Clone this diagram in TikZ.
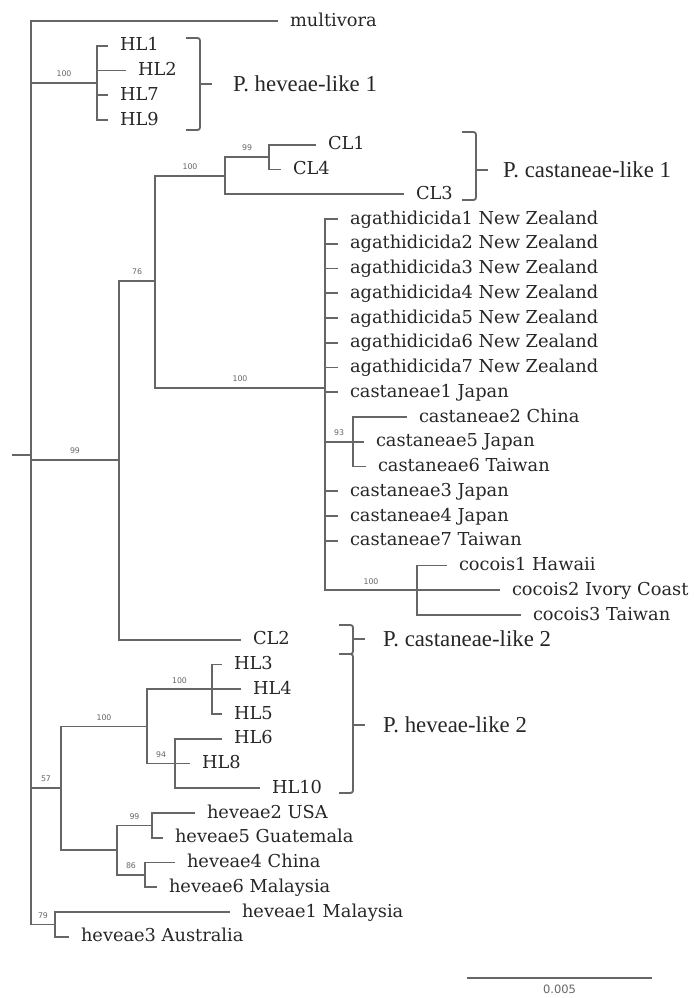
\documentclass[tikz,border=0pt]{standalone}
\usepackage{fontspec}
\setmainfont{DejaVu Serif}
\newfontfamily\cladefont{Liberation Serif}
\newfontfamily\bootfont{DejaVu Sans}
\usetikzlibrary{calc}
\def\cladebrace(#1:#2:#3:#4){\draw[brace] ($(#1,#2)+(-14,0)$) -- (#1,#2) -- (#1,#3) -- ($(#1,#3)+(-14,0)$); \draw[brace] (#1,#4) -- ++(12,0);}
\tikzset{
	branch/.style={draw=black!60, line width=1.8pt},
	brace/.style={draw=black!60, line width=1.8pt, rounded corners=2.5pt},
	leaf/.style={anchor=west, inner xsep=12pt, inner ysep=0pt, outer sep=0pt, text height=12.8pt, text depth=2.5pt, text=black!85, font=\fontsize{17.8}{20}\selectfont},
	clade/.style={anchor=west, inner sep=0pt, text=black!85, font=\cladefont\fontsize{22.8}{26}\selectfont},
	boot/.style={above=4.5pt, inner sep=0.5pt, text=black!60, font=\bootfont\fontsize{7.8}{8}\selectfont},
	scalelab/.style={below=6pt, inner sep=0.5pt, text=black!60, font=\bootfont\fontsize{11.5}{12}\selectfont}
}

\begin{document}
\begin{tikzpicture}[x=1pt, y=-1pt]
	%%%%% START %%%%%
	\useasboundingbox (0,0) rectangle (693,998);
	
	% inner nodes
	\coordinate (stub) at (12,455);
	\coordinate (root) at (31,455);
	\coordinate (nHLa) at (97,83);
	\coordinate (nB99) at (119,460);
	\coordinate (nB76) at (155,281);
	\coordinate (nCLa) at (225,176);
	\coordinate (nCLb) at (269,157);
	\coordinate (nAga) at (325,388);
	\coordinate (nCas) at (353,441.8);
	\coordinate (nCoc) at (417,590.3);
	\coordinate (n57) at (61,788);
	\coordinate (nHLb) at (147,726.4);
	\coordinate (nHLc) at (212,689.3);
	\coordinate (n94) at (175,763.5);
	\coordinate (nHev) at (117,850);
	\coordinate (nH99) at (152,825.4);
	\coordinate (nH86) at (145,874.9);
	\coordinate (n79) at (55,924.4);
	
	% leaves
	\node[leaf] (multivora) at (278,21) {multivora};
	
	\node[leaf] (hl1) at (108,45.8) {HL1};
	\node[leaf] (hl2) at (126,70.5) {HL2};
	\node[leaf] (hl7) at (108,95.3) {HL7};
	\node[leaf] (hl9) at (108,120) {HL9};
	
	\node[leaf] (cl1) at (316,144.8) {CL1};
	\node[leaf] (cl4) at (281,169.5) {CL4};
	\node[leaf] (cl3) at (404,194.3) {CL3};
	
	\node[leaf] (aga1) at (338,219) {agathidicida1 New Zealand};
	\node[leaf] (aga2) at (338,243.8) {agathidicida2 New Zealand};
	\node[leaf] (aga3) at (338,268.5) {agathidicida3 New Zealand};
	\node[leaf] (aga4) at (338,293.3) {agathidicida4 New Zealand};
	\node[leaf] (aga5) at (338,318) {agathidicida5 New Zealand};
	\node[leaf] (aga6) at (338,342.8) {agathidicida6 New Zealand};
	\node[leaf] (aga7) at (338,367.5) {agathidicida7 New Zealand};
	
	\node[leaf] (cas1) at (338,392.3) {castaneae1 Japan};
	\node[leaf] (cas2) at (407,417) {castaneae2 China};
	\node[leaf] (cas5) at (364,441.8) {castaneae5 Japan};
	\node[leaf] (cas6) at (366,466.5) {castaneae6 Taiwan};
	\node[leaf] (cas3) at (338,491.3) {castaneae3 Japan};
	\node[leaf] (cas4) at (338,516) {castaneae4 Japan};
	\node[leaf] (cas7) at (338,540.8) {castaneae7 Taiwan};
	
	\node[leaf] (coc1) at (447,565.5) {cocois1 Hawaii};
	\node[leaf] (coc2) at (500,590.3) {cocois2 Ivory Coast};
	\node[leaf] (coc3) at (521,615) {cocois3 Taiwan};
	
	\node[leaf] (cl2) at (241,639.8) {CL2};
	
	\node[leaf] (hl3) at (222,664.5) {HL3};
	\node[leaf] (hl4) at (241,689.3) {HL4};
	\node[leaf] (hl5) at (222,714) {HL5};
	\node[leaf] (hl6) at (222,738.8) {HL6};
	\node[leaf] (hl8) at (190,763.5) {HL8};
	\node[leaf] (hl10) at (260,788.3) {HL10};
	
	\node[leaf] (hev2) at (195,813) {heveae2 USA};
	\node[leaf] (hev5) at (163,837.8) {heveae5 Guatemala};
	\node[leaf] (hev4) at (175,862.5) {heveae4 China};
	\node[leaf] (hev6) at (157,887.3) {heveae6 Malaysia};
	\node[leaf] (hev1) at (230,912) {heveae1 Malaysia};
	\node[leaf] (hev3) at (69,936.8) {heveae3 Australia};
	
	% branches
	\draw[branch] (stub) -- (root);
	\draw[branch] (root) |- (multivora.west);
	
	\draw[branch] (root) |- node[boot, pos=0.75] {100} (nHLa);
	\draw[branch] (nHLa) |- (hl1.west) (nHLa) |- (hl2.west) (nHLa) |- (hl7.west) (nHLa) |- (hl9.west);
	
	\draw[branch] (root) |- node[boot, pos=0.75] {99} (nB99);
	\draw[branch] (nB99) |- node[boot, pos=0.75] {76} (nB76);
	\draw[branch] (nB76) |- node[boot, pos=0.75] {100} (nCLa);
	\draw[branch] (nCLa) |- node[boot, pos=0.75] {99} (nCLb);
	\draw[branch] (nCLb) |- (cl1.west) (nCLb) |- (cl4.west);
	\draw[branch] (nCLa) |- (cl3.west);
	
	\draw[branch] (nB76) |- node[boot, pos=0.75] {100} (nAga);
	\draw[branch] (nAga) |- (aga1.west) (nAga) |- (aga2.west) (nAga) |- (aga3.west) (nAga) |- (aga4.west);
	\draw[branch] (nAga) |- (aga5.west) (nAga) |- (aga6.west) (nAga) |- (aga7.west) (nAga) |- (cas1.west);
	\draw[branch] (nAga) |- node[boot, pos=0.75] {93} (nCas);
	\draw[branch] (nCas) |- (cas2.west) (nCas) |- (cas5.west) (nCas) |- (cas6.west);
	\draw[branch] (nAga) |- (cas3.west) (nAga) |- (cas4.west) (nAga) |- (cas7.west);
	\draw[branch] (nAga) |- node[boot, pos=0.75] {100} (nCoc);
	\draw[branch] (nCoc) |- (coc1.west) (nCoc) |- (coc2.west) (nCoc) |- (coc3.west);
	
	\draw[branch] (nB99) |- (cl2.west);
	
	\draw[branch] (root) |- node[boot, pos=0.75] {57} (n57);
	\draw[branch] (n57) |- node[boot, pos=0.75] {100} (nHLb);
	\draw[branch] (nHLb) |- node[boot, pos=0.75] {100} (nHLc);
	\draw[branch] (nHLc) |- (hl3.west) (nHLc) |- (hl4.west) (nHLc) |- (hl5.west);
	\draw[branch] (nHLb) |- node[boot, pos=0.75] {94} (n94);
	\draw[branch] (n94) |- (hl6.west) (n94) |- (hl8.west) (n94) |- (hl10.west);
	
	\draw[branch] (n57) |- (nHev);
	\draw[branch] (nHev) |- node[boot, pos=0.75] {99} (nH99);
	\draw[branch] (nH99) |- (hev2.west) (nH99) |- (hev5.west);
	\draw[branch] (nHev) |- node[boot, pos=0.75] {86} (nH86);
	\draw[branch] (nH86) |- (hev4.west) (nH86) |- (hev6.west);
	
	\draw[branch] (root) |- node[boot, pos=0.75] {79} (n79);
	\draw[branch] (n79) |- (hev1.west) (n79) |- (hev3.west);
	
	% clade brackets
	\cladebrace(200:38:130:84)
	\node[clade] (hlike1) at (233,84) {P. heveae-like 1};
	\cladebrace(476:132:200:170)
	\node[clade] (clike1) at (503,170) {P. castaneae-like 1};
	\cladebrace(353:625:654:639)
	\node[clade] (clike2) at (383,639) {P. castaneae-like 2};
	\cladebrace(353:654:793:725)
	\node[clade] (hlike2) at (383,725) {P. heveae-like 2};
	
	% scale bar
	\coordinate (sbl) at (467,978);
	\coordinate (sbr) at (652,978);
	\draw[branch] (sbl) -- node[scalelab] {0.005} (sbr);
	
	%%%%% END %%%%%
\end{tikzpicture}
\end{document}
